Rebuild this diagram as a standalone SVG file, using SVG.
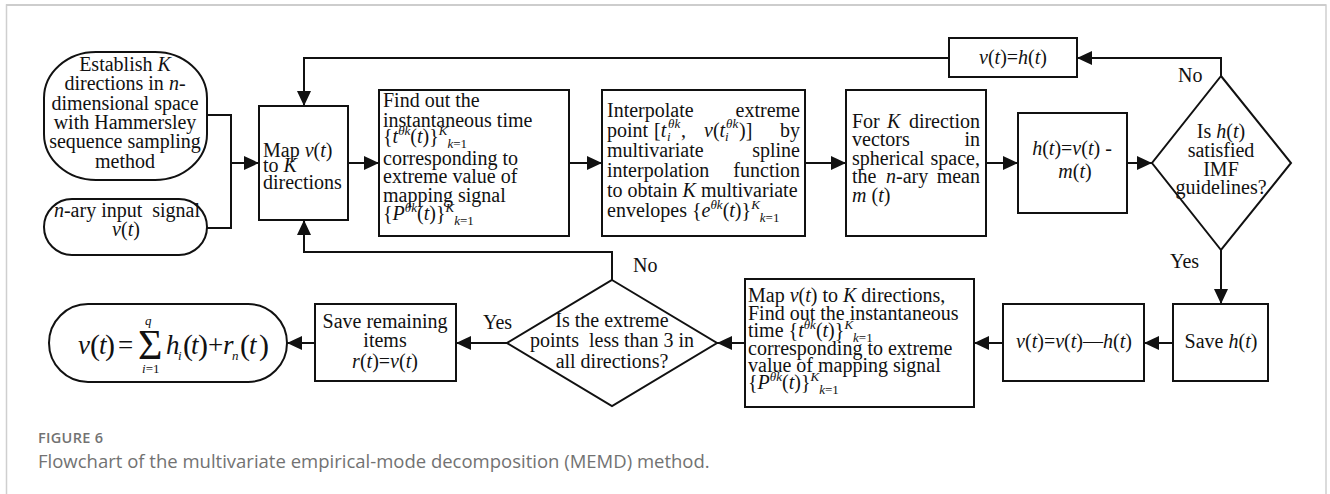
<svg xmlns="http://www.w3.org/2000/svg" width="1330" height="494" viewBox="0 0 1330 494">
  <style>
    .box { fill: #fff; stroke: #111; stroke-width: 2; }
    .wire { fill: none; stroke: #111; stroke-width: 2; }
    .t { font-family: "Liberation Serif", "Times New Roman", serif; font-size: 20px; fill: #111; }
    .c { text-anchor: middle; }
    .e { text-anchor: end; }
    .i { font-style: italic; }
    .sm { font-size: 13px; }
    .f { font-size: 27px; }
    .p { font-size: 30px; }
    .sig { font-size: 42px; }
    .cap { font-family: "Open Sans", "Noto Sans", sans-serif; fill: #727272; }
  </style>
  <defs>
    <marker id="arrow" markerUnits="userSpaceOnUse" markerWidth="16" markerHeight="16" refX="15" refY="7" orient="auto">
      <path d="M0,0 L15,7 L0,14 z" fill="#111"/>
    </marker>
  </defs>

  <!-- card frame -->
  <rect x="0" y="0" width="1330" height="494" fill="#fff"/>
  <path d="M6.5,500 V5 H1326 V500" fill="none" stroke="#cfcfcf" stroke-width="1.5"/>
  <line x1="6" y1="5" x2="1326" y2="5" stroke="#cdcdcd" stroke-width="2"/>

  <!-- connectors -->
  <g id="connectors">
    <path class="wire" d="M207,115 H231 V228 H207"/>
    <path class="wire" d="M231,163 H259" marker-end="url(#arrow)"/>
    <path class="wire" d="M348,163 H379" marker-end="url(#arrow)"/>
    <path class="wire" d="M569,163 H602" marker-end="url(#arrow)"/>
    <path class="wire" d="M805,163 H846" marker-end="url(#arrow)"/>
    <path class="wire" d="M986,163 H1018" marker-end="url(#arrow)"/>
    <path class="wire" d="M1127,163 H1152" marker-end="url(#arrow)"/>
    <path class="wire" d="M1221,76 V58 H1077" marker-end="url(#arrow)"/>
    <path class="wire" d="M949,58 H304 V106" marker-end="url(#arrow)"/>
    <path class="wire" d="M1221,250 V304" marker-end="url(#arrow)"/>
    <path class="wire" d="M1173,343 H1144" marker-end="url(#arrow)"/>
    <path class="wire" d="M1003,343 H974" marker-end="url(#arrow)"/>
    <path class="wire" d="M745,343 H717" marker-end="url(#arrow)"/>
    <path class="wire" d="M507,343 H456" marker-end="url(#arrow)"/>
    <path class="wire" d="M612,280 V252 H304 V220" marker-end="url(#arrow)"/>
    <path class="wire" d="M315,343 H287" marker-end="url(#arrow)"/>
    <text class="t" x="1178" y="82">No</text>
    <text class="t" x="1170" y="268">Yes</text>
    <text class="t" x="633" y="272">No</text>
    <text class="t" x="483" y="329">Yes</text>
  </g>

  <!-- start: direction set -->
  <g id="establish">
    <rect class="box" x="44" y="52" width="163" height="128" rx="52" ry="46"/>
    <text class="t c" x="125" y="71">Establish <tspan class="i">K</tspan></text>
    <text class="t c" x="125" y="90">directions in <tspan class="i">n</tspan>-</text>
    <text class="t c" x="125" y="110">dimensional space</text>
    <text class="t c" x="125" y="129">with Hammersley</text>
    <text class="t c" x="125" y="148">sequence sampling</text>
    <text class="t c" x="125" y="168">method</text>
  </g>

  <!-- start: input signal -->
  <g id="input">
    <rect class="box" x="44" y="199" width="163" height="56" rx="28" ry="28"/>
    <text class="t c" x="127" y="217" xml:space="preserve"><tspan class="i">n</tspan>-ary input  signal</text>
    <text class="t c" x="126" y="236"><tspan class="i">v</tspan>(<tspan class="i">t</tspan>)</text>
  </g>

  <g id="map">
    <rect class="box" x="259" y="106" width="89" height="114"/>
    <text class="t" x="263" y="157">Map <tspan class="i">v</tspan>(<tspan class="i">t</tspan>)</text>
    <text class="t" x="263" y="172">to <tspan class="i">K</tspan></text>
    <text class="t" x="263" y="189">directions</text>
  </g>

  <g id="find">
    <rect class="box" x="379" y="90" width="190" height="146"/>
    <text class="t" x="383" y="107">Find out the</text>
    <text class="t" x="383" y="127">instantaneous time</text>
    <text class="t" x="383" y="143">{<tspan class="i">t</tspan><tspan class="sm i" dy="-8">θk</tspan><tspan dy="8">(</tspan><tspan class="i">t</tspan>)}<tspan class="sm i" dy="-8">K</tspan><tspan class="sm" dy="13"><tspan class="i">k</tspan>=1</tspan></text>
    <text class="t" x="383" y="165">corresponding to</text>
    <text class="t" x="383" y="183">extreme value of</text>
    <text class="t" x="383" y="202">mapping signal</text>
    <text class="t" x="383" y="220">{<tspan class="i">P</tspan><tspan class="sm i" dy="-8">θk</tspan><tspan dy="8">(</tspan><tspan class="i">t</tspan>)}<tspan class="sm i" dy="-8">K</tspan><tspan class="sm" dy="13"><tspan class="i">k</tspan>=1</tspan></text>
  </g>

  <g id="interpolate">
    <rect class="box" x="602" y="90" width="203" height="146"/>
    <text class="t" x="607" y="117">Interpolate</text>
    <text class="t e" x="800" y="117">extreme</text>
    <text class="t" x="607" y="137">point</text>
    <text class="t" x="654" y="137">[<tspan class="i">t</tspan></text>
    <text class="t sm i" x="667" y="141">i</text>
    <text class="t sm i" x="668" y="128">θk</text>
    <text class="t" x="681" y="137">,</text>
    <text class="t" x="704" y="137"><tspan class="i">v</tspan>(<tspan class="i">t</tspan></text>
    <text class="t sm i" x="725" y="141">i</text>
    <text class="t sm i" x="726" y="128">θk</text>
    <text class="t" x="739" y="137">)]</text>
    <text class="t e" x="800" y="137">by</text>
    <text class="t" x="607" y="157">multivariate</text>
    <text class="t e" x="800" y="157">spline</text>
    <text class="t" x="607" y="177">interpolation</text>
    <text class="t e" x="800" y="177">function</text>
    <text class="t" x="607" y="197">to obtain <tspan class="i">K</tspan> multivariate</text>
    <text class="t" x="607" y="217">envelopes {<tspan class="i">e</tspan><tspan class="sm i" dy="-8">θk</tspan><tspan dy="8">(</tspan><tspan class="i">t</tspan>)}<tspan class="sm i" dy="-8">K</tspan><tspan class="sm" dy="13"><tspan class="i">k</tspan>=1</tspan></text>
  </g>

  <g id="mean">
    <rect class="box" x="846" y="90" width="140" height="146"/>
    <text class="t" x="852" y="128">For</text>
    <text class="t i" x="887" y="128">K</text>
    <text class="t e" x="980" y="128">direction</text>
    <text class="t" x="852" y="146">vectors</text>
    <text class="t e" x="980" y="146">in</text>
    <text class="t" x="852" y="165">spherical</text>
    <text class="t e" x="980" y="165">space,</text>
    <text class="t" x="852" y="183">the</text>
    <text class="t" x="886" y="183"><tspan class="i">n</tspan>-ary</text>
    <text class="t e" x="980" y="183">mean</text>
    <text class="t" x="852" y="202"><tspan class="i">m</tspan> (<tspan class="i">t</tspan>)</text>
  </g>

  <g id="residual">
    <rect class="box" x="1018" y="113" width="109" height="100"/>
    <text class="t c" x="1072" y="155"><tspan class="i">h</tspan>(<tspan class="i">t</tspan>)=<tspan class="i">v</tspan>(<tspan class="i">t</tspan>) -</text>
    <text class="t c" x="1075" y="178"><tspan class="i">m</tspan>(<tspan class="i">t</tspan>)</text>
  </g>

  <g id="imf-check">
    <polygon class="box" points="1221,76 1291,163 1221,250 1152,163"/>
    <text class="t c" x="1221" y="138">Is <tspan class="i">h</tspan>(<tspan class="i">t</tspan>)</text>
    <text class="t c" x="1221" y="157">satisfied</text>
    <text class="t c" x="1221" y="176">IMF</text>
    <text class="t c" x="1221" y="194">guidelines?</text>
  </g>

  <g id="update">
    <rect class="box" x="949" y="38" width="128" height="39"/>
    <text class="t c" x="1013" y="64"><tspan class="i">v</tspan>(<tspan class="i">t</tspan>)=<tspan class="i">h</tspan>(<tspan class="i">t</tspan>)</text>
  </g>

  <g id="save-h">
    <rect class="box" x="1173" y="304" width="95" height="77"/>
    <text class="t c" x="1221" y="348">Save <tspan class="i">h</tspan>(<tspan class="i">t</tspan>)</text>
  </g>

  <g id="subtract">
    <rect class="box" x="1003" y="304" width="141" height="77"/>
    <text class="t c" x="1074" y="348"><tspan class="i">v</tspan>(<tspan class="i">t</tspan>)=<tspan class="i">v</tspan>(<tspan class="i">t</tspan>)—<tspan class="i">h</tspan>(<tspan class="i">t</tspan>)</text>
  </g>

  <g id="remap">
    <rect class="box" x="745" y="279" width="229" height="128"/>
    <text class="t" x="748" y="302">Map <tspan class="i">v</tspan>(<tspan class="i">t</tspan>) to <tspan class="i">K</tspan> directions,</text>
    <text class="t" x="748" y="320">Find out the instantaneous</text>
    <text class="t" x="748" y="337">time {<tspan class="i">t</tspan><tspan class="sm i" dy="-8">θk</tspan><tspan dy="8">(</tspan><tspan class="i">t</tspan>)}<tspan class="sm i" dy="-8">K</tspan><tspan class="sm" dy="13"><tspan class="i">k</tspan>=1</tspan></text>
    <text class="t" x="748" y="355">corresponding to extreme</text>
    <text class="t" x="748" y="372">value of mapping signal</text>
    <text class="t" x="748" y="389">{<tspan class="i">P</tspan><tspan class="sm i" dy="-8">θk</tspan><tspan dy="8">(</tspan><tspan class="i">t</tspan>)}<tspan class="sm i" dy="-8">K</tspan><tspan class="sm" dy="13"><tspan class="i">k</tspan>=1</tspan></text>
  </g>

  <g id="extrema-check">
    <polygon class="box" points="612,280 717,343 612,406 507,343"/>
    <text class="t c" x="612" y="327">Is the extreme</text>
    <text class="t c" x="612" y="347" xml:space="preserve">points  less than 3 in</text>
    <text class="t c" x="612" y="368">all directions?</text>
  </g>

  <g id="save-residue">
    <rect class="box" x="315" y="304" width="141" height="77"/>
    <text class="t c" x="385" y="328">Save remaining</text>
    <text class="t c" x="385" y="347">items</text>
    <text class="t c" x="385" y="368"><tspan class="i">r</tspan>(<tspan class="i">t</tspan>)=<tspan class="i">v</tspan>(<tspan class="i">t</tspan>)</text>
  </g>

  <!-- result: v(t) = sum of IMFs plus residue -->
  <g id="result">
    <rect class="box" x="49" y="304" width="238" height="78" rx="39" ry="39"/>
    <text class="t f i" x="78" y="354">v</text>
    <text class="t p" x="90" y="355">(</text>
    <text class="t f i" x="99" y="354">t</text>
    <text class="t p" x="105" y="355">)</text>
    <text class="t f" x="118" y="354">=</text>
    <text class="t sig" x="138" y="359">Σ</text>
    <text class="t sm i" x="145" y="325">q</text>
    <text class="t sm" x="142" y="373"><tspan class="i">i</tspan>=1</text>
    <text class="t f i" x="166" y="354">h</text>
    <text class="t sm i" x="178" y="360">i</text>
    <text class="t p" x="183" y="355">(</text>
    <text class="t f i" x="191" y="354">t</text>
    <text class="t p" x="198" y="355">)</text>
    <text class="t f" x="208" y="354">+</text>
    <text class="t f i" x="223" y="354">r</text>
    <text class="t sm i" x="232" y="360">n</text>
    <text class="t p" x="240" y="355">(</text>
    <text class="t f i" x="249" y="354">t</text>
    <text class="t p" x="259" y="355">)</text>
  </g>

  <!-- caption -->
  <text class="cap" x="38" y="443" font-size="14.5" font-weight="600" letter-spacing="0.3">FIGURE 6</text>
  <text class="cap" x="38" y="468" font-size="18.5">Flowchart of the multivariate empirical-mode decomposition (MEMD) method.</text>
</svg>
